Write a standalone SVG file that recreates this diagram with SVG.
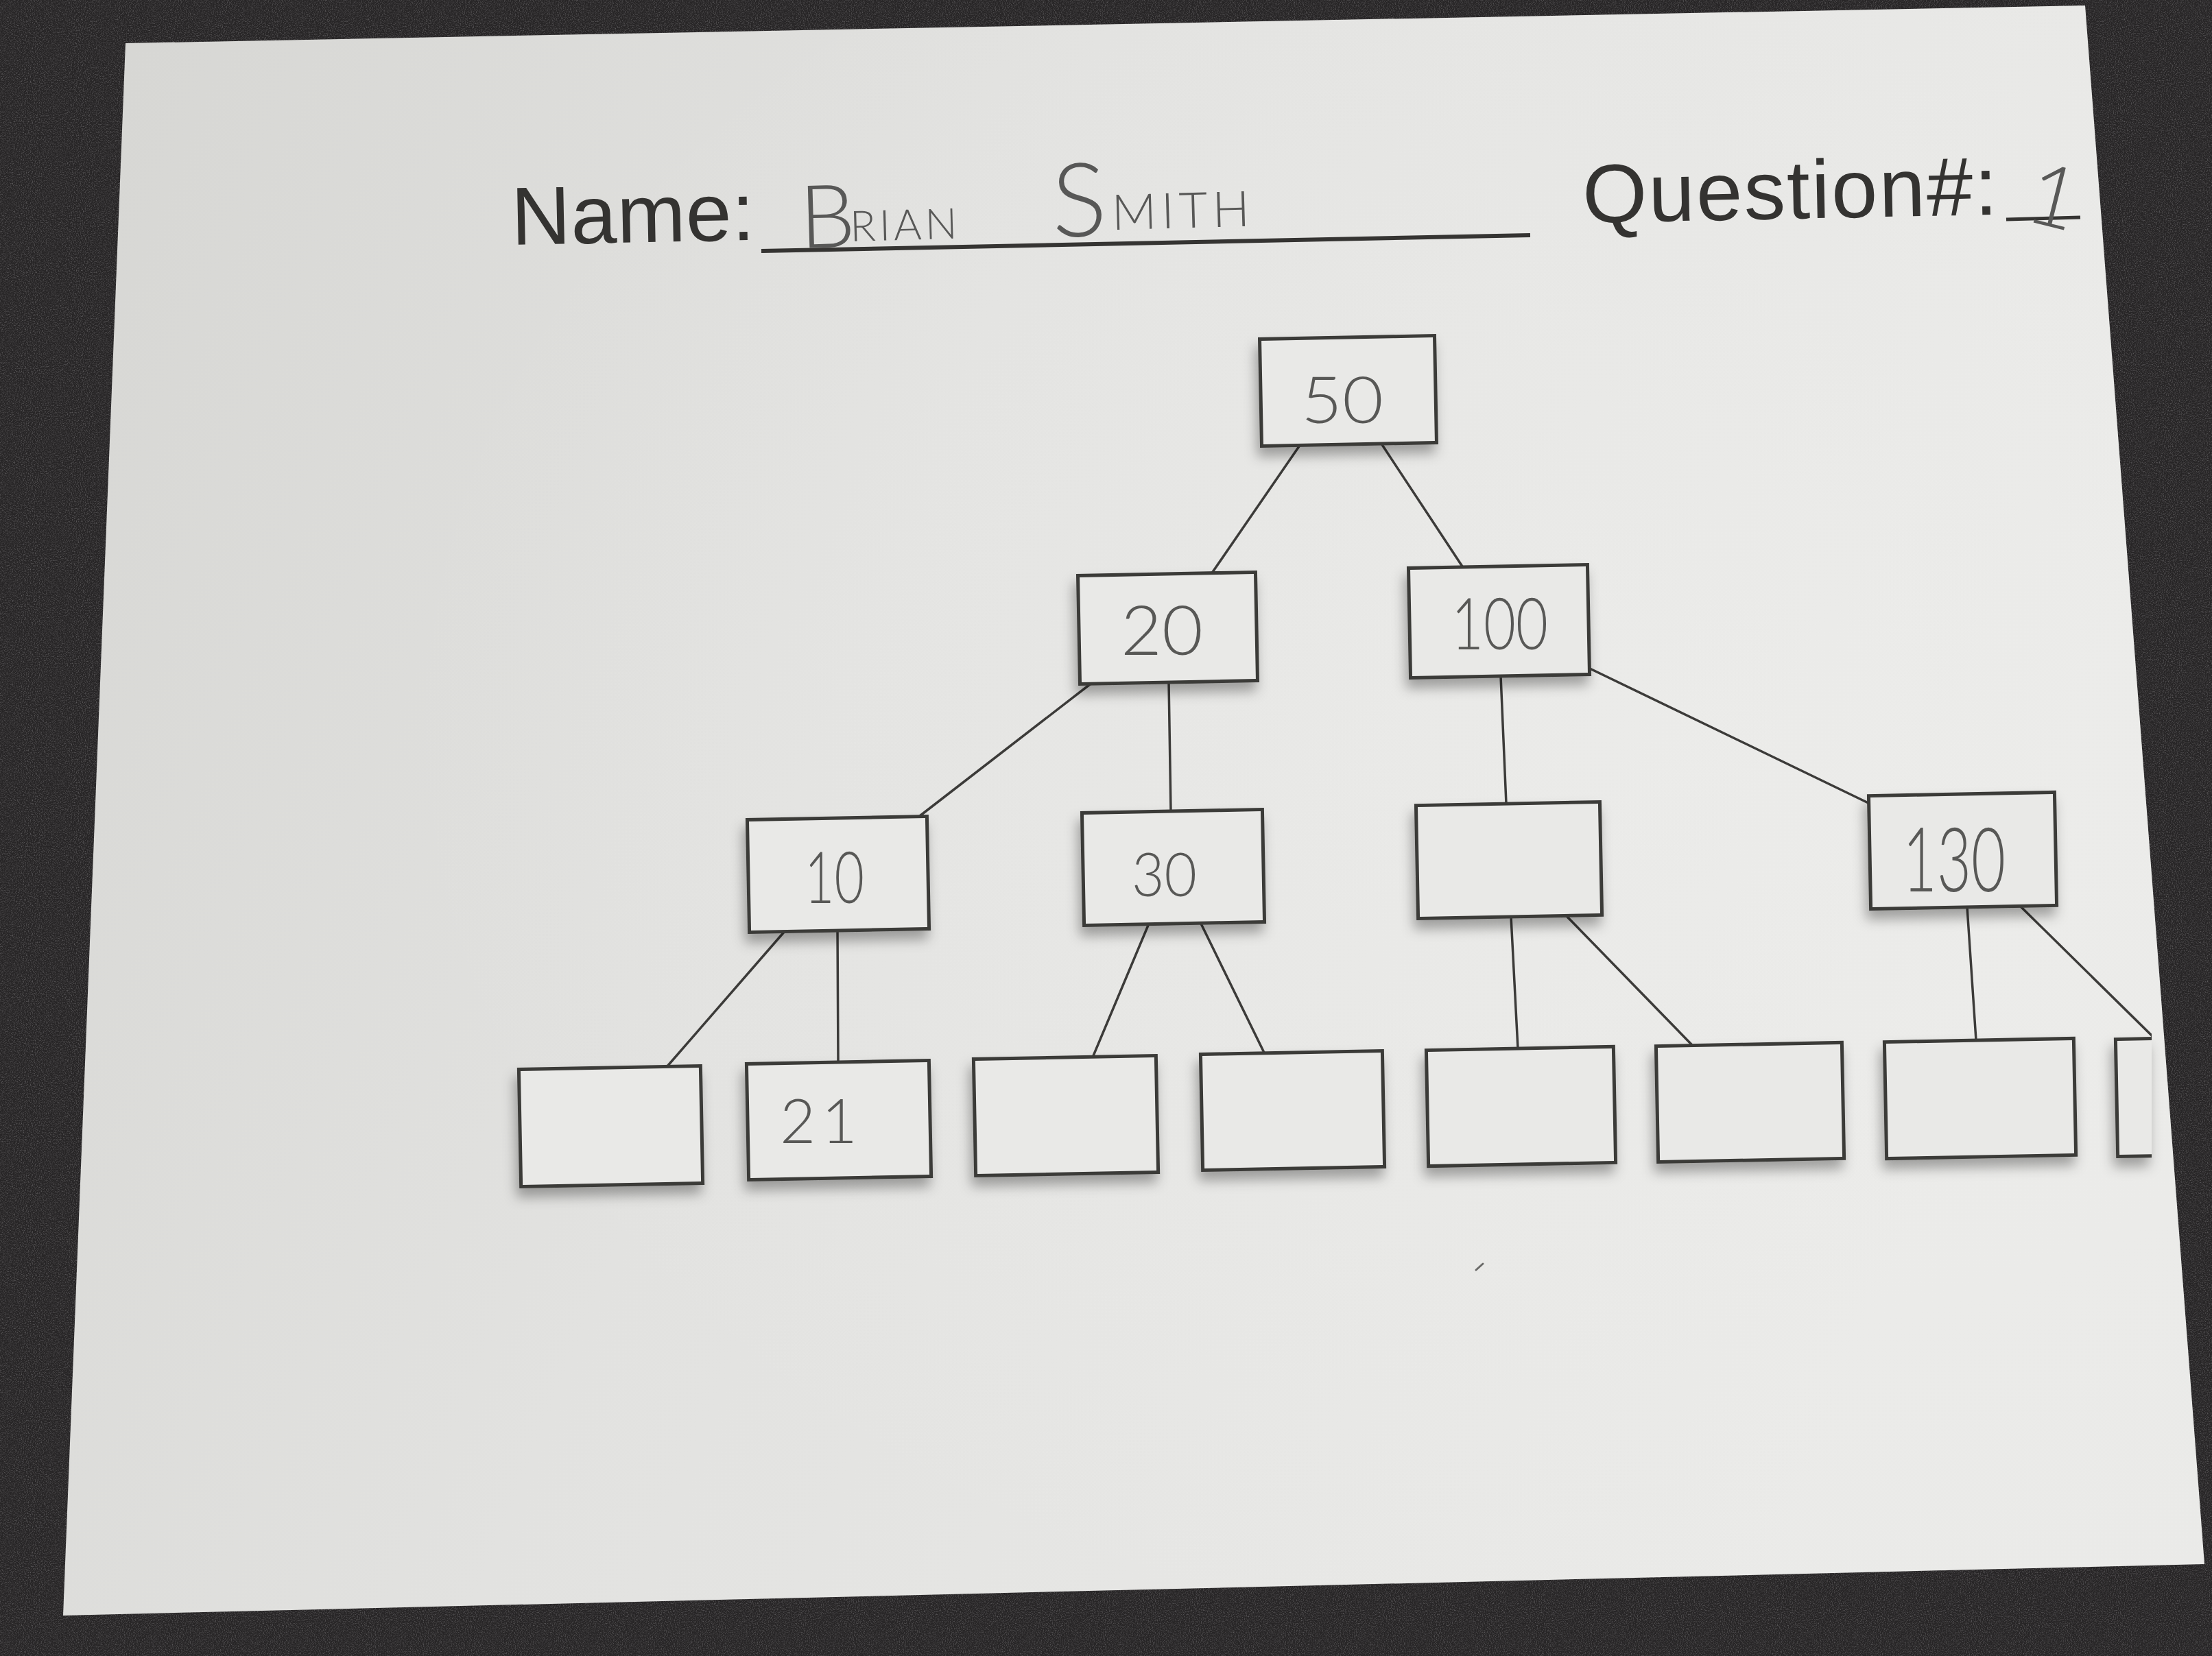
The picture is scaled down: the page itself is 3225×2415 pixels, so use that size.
<svg xmlns="http://www.w3.org/2000/svg" width="3225" height="2415" viewBox="0 0 3225 2415">
  <style>
    .box { fill: #e9e9e7; stroke: #3b3a38; stroke-width: 5; }
    .edge { stroke: #3c3b39; stroke-width: 3.5; fill: none; stroke-linecap: round; }
    .print { font-family: "Liberation Sans", Arial, sans-serif; fill: #343331; }
    .hand { font-family: "Lato", "Roboto", "DejaVu Sans", sans-serif; font-weight: 300; fill: #585857; }
  </style>
  <defs>
    <linearGradient id="paperGrad" x1="0" y1="0" x2="1" y2="0.3">
      <stop offset="0" stop-color="#d6d6d3"/>
      <stop offset="0.45" stop-color="#e2e2e0"/>
      <stop offset="1" stop-color="#eaeae8"/>
    </linearGradient>
    <radialGradient id="paperGlow" cx="0.75" cy="0.45" r="0.6">
      <stop offset="0" stop-color="#f0f0ee" stop-opacity="0.45"/>
      <stop offset="1" stop-color="#f0f0ee" stop-opacity="0"/>
    </radialGradient>
    <filter id="noise" x="0" y="0" width="100%" height="100%">
      <feTurbulence type="fractalNoise" baseFrequency="0.7" numOctaves="2" seed="4"/>
      <feColorMatrix type="matrix" values="0 0 0 0 0.35  0 0 0 0 0.34  0 0 0 0 0.35  1 0 0 0 -0.45"/>
    </filter>
    <filter id="shadow" x="-20%" y="-20%" width="140%" height="160%">
      <feDropShadow dx="-4" dy="13" stdDeviation="9" flood-color="#000" flood-opacity="0.32"/>
    </filter>
    <clipPath id="edgeClip">
      <rect x="0" y="0" width="3137" height="2415"/>
    </clipPath>
  </defs>

  <!-- dark background -->
  <rect x="0" y="0" width="3225" height="2415" fill="#272526"/>
  <rect x="0" y="0" width="3225" height="2415" filter="url(#noise)"/>

  <!-- paper -->
  <polygon points="183,63 3040,8 3214,2281 92,2356" fill="url(#paperGrad)"/>
  <polygon points="183,63 3040,8 3214,2281 92,2356" fill="url(#paperGlow)"/>

  <!-- header -->
  <g id="header">
    <text class="print" x="746" y="357" font-size="120" textLength="355" transform="rotate(-1.15 746 357)">Name:</text>
    <line x1="1110" y1="366" x2="2231" y2="343" stroke="#353432" stroke-width="6"/>
    <text class="hand" font-weight="200" transform="rotate(-1.6 1167 360)"><tspan x="1167" y="362" font-size="128">B</tspan><tspan x="1240" y="354" font-size="62" letter-spacing="5">RIAN</tspan> <tspan x="1535" y="356" font-size="150">S</tspan><tspan x="1622" y="348" font-size="72" letter-spacing="7">MITH</tspan></text>
    <text class="print" x="2308" y="325" font-size="121" textLength="605" transform="rotate(-1.15 2308 325)">Question#:</text>
    <line x1="2925" y1="320" x2="3033" y2="317" stroke="#353432" stroke-width="5"/>
    <text class="hand" x="2948" y="324" font-size="125" transform="rotate(14 2962 324)">1</text>
  </g>

  <!-- connectors -->
  <g id="connectors">
    <line class="edge" x1="1896" y1="648" x2="1766" y2="837"/>
    <line class="edge" x1="2014" y1="647" x2="2132" y2="826"/>
    <line class="edge" x1="1593" y1="995" x2="1337" y2="1193"/>
    <line class="edge" x1="1704" y1="995" x2="1707" y2="1183"/>
    <line class="edge" x1="2188" y1="986" x2="2196" y2="1172"/>
    <line class="edge" x1="2316" y1="974" x2="2726" y2="1172"/>
    <line class="edge" x1="1145" y1="1357" x2="972" y2="1556"/>
    <line class="edge" x1="1221" y1="1357" x2="1222" y2="1549"/>
    <line class="edge" x1="1675" y1="1347" x2="1593" y2="1542"/>
    <line class="edge" x1="1751" y1="1347" x2="1843" y2="1535"/>
    <line class="edge" x1="2203" y1="1337" x2="2213" y2="1529"/>
    <line class="edge" x1="2283" y1="1335" x2="2466" y2="1523"/>
    <line class="edge" x1="2868" y1="1323" x2="2881" y2="1517"/>
    <line class="edge" x1="2946" y1="1322" x2="3140" y2="1513" clip-path="url(#edgeClip)"/>
  </g>

  <!-- nodes -->
  <g id="n50" filter="url(#shadow)">
    <rect class="box" x="1838" y="492" width="255" height="156" transform="rotate(-1.1 1965 570)"/>
    <text class="hand" x="1897" y="617" font-size="95" textLength="120" lengthAdjust="spacingAndGlyphs">50</text>
  </g>
  <g id="n20" filter="url(#shadow)">
    <rect class="box" x="1573" y="837" width="259" height="158" transform="rotate(-1.1 1702 916)"/>
    <text class="hand" x="1634" y="955" font-size="100" textLength="120" lengthAdjust="spacingAndGlyphs">20</text>
  </g>
  <g id="n100" filter="url(#shadow)">
    <rect class="box" x="2055" y="826" width="261" height="160" transform="rotate(-1.1 2185 906)"/>
    <text class="hand" x="2116" y="947" font-size="105" textLength="141" lengthAdjust="spacingAndGlyphs">100</text>
  </g>
  <g id="n10" filter="url(#shadow)">
    <rect class="box" x="1091" y="1193" width="262" height="164" transform="rotate(-1.1 1222 1275)"/>
    <text class="hand" x="1173" y="1317" font-size="105" textLength="87" lengthAdjust="spacingAndGlyphs">10</text>
  </g>
  <g id="n30" filter="url(#shadow)">
    <rect class="box" x="1579" y="1183" width="263" height="164" transform="rotate(-1.1 1710 1265)"/>
    <text class="hand" x="1650" y="1307" font-size="88" textLength="95" lengthAdjust="spacingAndGlyphs">30</text>
  </g>
  <g id="n_empty" filter="url(#shadow)">
    <rect class="box" x="2066" y="1172" width="268" height="165" transform="rotate(-1.1 2200 1254)"/>
  </g>
  <g id="n130" filter="url(#shadow)">
    <rect class="box" x="2726" y="1158" width="271" height="165" transform="rotate(-1.1 2861 1240)"/>
    <text class="hand" x="2774" y="1300" font-size="130" textLength="150" lengthAdjust="spacingAndGlyphs">130</text>
  </g>

  <g id="leaf1" filter="url(#shadow)">
    <rect class="box" x="758" y="1557" width="265" height="171" transform="rotate(-1.1 890 1642)"/>
  </g>
  <g id="leaf2" filter="url(#shadow)">
    <rect class="box" x="1090" y="1549" width="266" height="169" transform="rotate(-1.1 1223 1633)"/>
    <text class="hand" x="1137" y="1667" font-size="90" textLength="113">21</text>
  </g>
  <g id="leaf3" filter="url(#shadow)">
    <rect class="box" x="1421" y="1542" width="266" height="170" transform="rotate(-1.1 1554 1627)"/>
  </g>
  <g id="leaf4" filter="url(#shadow)">
    <rect class="box" x="1752" y="1535" width="265" height="169" transform="rotate(-1.1 1884 1619)"/>
  </g>
  <g id="leaf5" filter="url(#shadow)">
    <rect class="box" x="2081" y="1529" width="273" height="169" transform="rotate(-1.1 2217 1613)"/>
  </g>
  <g id="leaf6" filter="url(#shadow)">
    <rect class="box" x="2416" y="1523" width="271" height="169" transform="rotate(-1.1 2551 1607)"/>
  </g>
  <g id="leaf7" filter="url(#shadow)">
    <rect class="box" x="2749" y="1517" width="276" height="170" transform="rotate(-1.1 2887 1602)"/>
  </g>
  <g id="leaf8" filter="url(#shadow)">
    <g clip-path="url(#edgeClip)">
      <rect class="box" x="3086" y="1513" width="270" height="171" transform="rotate(-1.1 3221 1598)"/>
    </g>
  </g>

  <!-- stray pencil mark -->
  <path d="M2152,1852 l10,-9" stroke="#6a6a68" stroke-width="3" fill="none" stroke-linecap="round"/>
</svg>
